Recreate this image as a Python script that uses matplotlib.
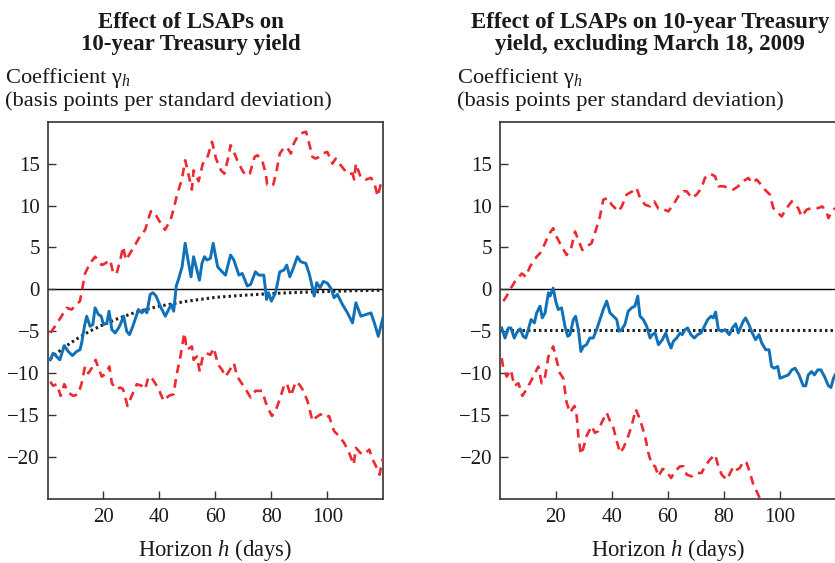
import matplotlib
matplotlib.use("Agg")
import matplotlib.pyplot as plt

FIG_W_PX = 835
FIG_H_PX = 563
DPI = 100

RED = "#ec2a2f"
BLUE = "#1070b8"
SPINE = "#333333"
TEXT = "#1a1a1a"

plt.rcParams["font.family"] = ["Liberation Serif", "DejaVu Serif"]
plt.rcParams["mathtext.fontset"] = "custom"
plt.rcParams["mathtext.rm"] = "Liberation Serif"
plt.rcParams["mathtext.it"] = "Liberation Serif:italic"

X_TICKS = [20, 40, 60, 80, 100]
Y_TICKS = [15, 10, 5, 0, -5, -10, -15, -20]

TITLE_LEFT = "Effect of LSAPs on\n10-year Treasury yield"
TITLE_RIGHT = "Effect of LSAPs on 10-year Treasury\nyield, excluding March 18, 2009"
Y_LABEL = "Coefficient γ$_h$\n(basis points per standard deviation)"
X_LABEL = "Horizon $h$ (days)"

# ---- left panel: all days ----
left_blue_h = [1, 2, 4.4, 6, 7.4, 8.9, 10.4, 11.6, 12.2, 13.2, 14, 15.2, 16.2, 17, 18.2, 19.2, 20, 21.2, 22, 23,
               24.2, 25.4, 26, 27.2, 28.3, 29.3, 30.5, 31.7, 32.5, 33.7, 34.9, 35.5, 36.7, 37.7, 38.8, 40.3, 41.2,
               42.1, 43.3, 44.2, 45.1, 46, 46.9, 48.1, 49.2, 50.2, 51.3, 52.2, 53.4, 54.3, 55.2, 56.1, 57, 58.2,
               59.2, 60.8, 62.4, 63.6, 65.4, 66.6, 68.4, 69.6, 71.4, 72.6, 74.3, 75.5, 77.3, 78.3, 79, 80, 81.5,
               83, 84.5, 85.5, 86.6, 87.8, 89.3, 90.5, 92.3, 93.5, 94.7, 95.3, 96.2, 97.4, 98.6, 100, 101.5,
               102.4, 103.6, 105.4, 107.2, 109, 110.2, 112, 113.8, 115.6, 117, 118.2, 119.1, 120]
left_blue = [-8.4, -7.6, -8.4, -6.7, -7.4, -7.9, -7.4, -7.2, -6.4, -4.4, -3.2, -4.4, -4.2, -2.2, -3.0, -3.2, -4.2,
             -4.0, -2.6, -4.8, -5.2, -4.6, -4.2, -3.2, -5.0, -5.4, -4.4, -3.2, -2.4, -2.8, -2.4, -2.8, -0.6, -0.4,
             -0.8, -2.0, -2.6, -3.2, -2.4, -1.8, -2.6, 0.4, 1.3, 2.7, 5.5, 3.5, 1.5, 3.9, 2.3, 1.1, 3.1, 3.9, 3.5,
             3.7, 5.5, 2.7, 2.1, 1.7, 4.1, 3.5, 1.7, 1.9, 0.4, 0.6, 2.1, 1.7, 1.7, -1.2, -0.4, -1.4, -0.4, 2.1,
             2.3, 2.9, 1.5, 2.5, 3.9, 3.3, 3.1, 1.9, 0.2, -0.8, 0.8, 0.2, 0.95, 0.75, 0.0, -1.0, -0.6, -1.8,
             -2.8, -4.0, -1.6, -3.2, -3.0, -2.8, -4.2, -5.6, -4.4, -3.2]

left_upper_h = [1, 2.7, 5, 6.8, 8.6, 10.4, 11.6, 12.6, 13.4, 15.2, 17, 19.4, 20.6, 22.4, 23.5, 24.7, 26, 27, 28,
                29.5, 31.3, 33, 34.9, 36.9, 38, 39.7, 42, 44, 45, 46.3, 48, 49.2, 50.4, 51.6, 52.2, 54, 55.5, 57,
                58.8, 60.2, 62, 63.2, 64.8, 65.4, 66.6, 67.8, 69.6, 70.8, 72.3, 74, 75, 76.7, 78, 78.5, 79.7, 80.7,
                81.9, 83, 84.3, 85.5, 87, 88, 89.3, 90.5, 92.4, 93.5, 94.7, 95.8, 97, 98.3, 100, 101.8, 103, 104.8,
                107.2, 109, 109.6, 110.2, 112, 113.8, 115.6, 116.8, 118, 119.2, 120]
left_upper = [-5.2, -4.4, -3.2, -2.2, -2.4, -1.8, -1.4, 0.4, 1.9, 3.1, 3.9, 2.9, 3.1, 3.5, 1.9, 1.9, 3.5, 5.1, 3.5,
              4.3, 5.3, 6.3, 7.1, 9.3, 9.3, 8.3, 7.1, 8.3, 9.5, 11.3, 13.1, 15.4, 13.7, 11.9, 14.2, 12.9, 15.0, 15.6,
              17.6, 15.6, 14.2, 13.8, 16.0, 17.2, 16.4, 15.4, 14.2, 13.6, 13.8, 15.8, 16.0, 15.4, 13.8, 12.5, 12.7,
              12.5, 14.2, 16.2, 16.8, 17.0, 16.2, 17.4, 18.2, 18.6, 18.8, 17.4, 15.8, 15.6, 15.8, 16.2, 16.4, 15.0,
              15.6, 14.8, 13.8, 13.8, 13.1, 15.0, 13.3, 13.1, 13.3, 12.7, 11.1, 12.7, 13.1]

left_lower_h = [1, 2, 3.3, 4.7, 6, 7.4, 9.2, 11, 12.2, 13.4, 14.6, 15.8, 17.2, 18.2, 19.4, 20.9, 22.1, 23, 24.5, 26,
                27, 28.6, 30.1, 31.9, 33.7, 34.9, 36.1, 37.3, 38.5, 39.7, 41.5, 43.3, 45.1, 46, 47.5, 48.9, 49.8,
                51.6, 52.2, 53.4, 54.4, 55.5, 56.6, 58.2, 59.4, 61, 62.4, 63.6, 64.8, 66.6, 67.8, 69.6, 70.8, 72.6,
                74.3, 76.7, 78, 79, 80.2, 81.5, 83, 84.5, 85.5, 87, 88.7, 89.9, 91.1, 92.9, 94.7, 95.8, 97.6, 99.4,
                100.6, 102.4, 104.2, 106, 107.8, 109.4, 110.2, 111.8, 113.2, 115, 116.2, 117.4, 118.7, 119.4, 120]
left_lower = [-11.0, -11.5, -11.3, -12.7, -11.3, -12.3, -12.7, -12.5, -11.2, -9.2, -10.0, -9.4, -8.4, -9.4, -10.4,
              -10.0, -9.2, -11.2, -11.9, -11.7, -11.9, -13.9, -12.7, -11.3, -11.5, -11.9, -10.4, -10.6, -11.2,
              -11.9, -13.3, -12.7, -12.5, -10.4, -8.0, -5.2, -7.2, -6.8, -8.4, -8.0, -9.8, -8.0, -7.6, -7.8, -7.0,
              -9.0, -9.6, -10.4, -9.8, -8.8, -10.4, -11.3, -11.9, -12.9, -12.1, -12.1, -13.5, -14.3, -15.1, -14.5,
              -13.1, -11.5, -11.2, -12.7, -11.0, -11.3, -11.9, -13.3, -15.7, -15.3, -14.9, -15.3, -15.1, -16.9,
              -17.5, -18.3, -19.5, -20.9, -18.9, -19.5, -19.7, -19.1, -20.3, -21.1, -22.1, -20.7, -20.1]

left_fit_h = [1, 3, 6, 10, 15, 20, 25, 30, 35, 40, 50, 60, 70, 80, 90, 100, 110, 120]
left_fit = [-8.3, -7.7, -6.9, -6.0, -5.0, -4.2, -3.5, -2.9, -2.4, -2.0, -1.4, -0.95, -0.7, -0.5, -0.35, -0.25,
            -0.15, -0.1]

# ---- right panel: excluding March 18, 2009 ----
right_blue_h = [0.7, 1.9, 3.1, 4, 5.2, 6, 7.3, 8.4, 9.3, 10.2, 11.2, 12.4, 13.2, 14.4, 15.2, 16.2, 17.4, 18, 19.1,
                20, 20.9, 22.1, 23.3, 24.3, 25.1, 26.3, 27.1, 28.1, 29, 29.9, 31, 32.2, 33.4, 34.6, 35.8, 37, 38.2,
                39.4, 40.6, 41.8, 42.6, 43.5, 44.7, 45.9, 47.1, 48.3, 49.3, 50.1, 51.3, 52.5, 53.7, 54.5, 55.5,
                56.7, 58.1, 59.3, 60.2, 61.2, 62, 63.2, 64.4, 65.2, 66.2, 67.1, 68.3, 69.5, 70.7, 71.9, 73.1, 74.3,
                75.5, 76.3, 77.1, 78.1, 79.3, 80.5, 82, 83.1, 84.3, 85.2, 86.2, 87, 87.8, 89, 90.2, 91.4, 92.6,
                93.6, 95, 96.2, 97.1, 98, 99.3, 100.1, 101.6, 103.1, 104.3, 105.5, 106.9, 108.4, 109.3, 110.2,
                111.4, 112.4, 113.6, 114.7, 116, 117.4, 118.3, 119.2, 119.8]
right_blue = [-4.6, -5.8, -4.6, -4.6, -5.8, -5.2, -4.7, -5.6, -5.8, -4.8, -3.6, -4.0, -2.8, -2.0, -3.4, -2.8, -0.4,
              -0.8, 0.15, -1.4, -2.4, -2.2, -4.4, -5.6, -5.4, -3.6, -3.2, -4.8, -7.4, -6.8, -6.6, -5.8, -5.8, -4.8,
              -3.6, -2.4, -1.4, -2.8, -3.2, -3.6, -5.0, -4.8, -4.2, -2.6, -2.2, -2.0, -0.8, -3.2, -3.6, -4.4, -5.8,
              -5.4, -5.2, -6.6, -6.0, -5.2, -6.2, -7.0, -6.2, -5.8, -5.2, -5.4, -4.8, -4.6, -5.4, -5.8, -5.4, -5.2,
              -4.4, -3.6, -3.2, -3.4, -2.7, -4.8, -5.0, -4.8, -5.4, -4.6, -4.1, -5.2, -4.4, -3.8, -3.4, -4.2, -5.2,
              -6.0, -5.4, -6.4, -7.2, -7.2, -9.2, -9.4, -9.2, -10.6, -10.4, -10.2, -9.6, -9.4, -10.2, -11.5, -11.5,
              -10.2, -9.8, -10.2, -9.6, -9.6, -10.4, -11.5, -11.7, -10.6, -10.2]

right_upper_h = [1.3, 2.5, 4, 5.5, 7.9, 9.3, 10.8, 13.2, 14.4, 16.2, 17.4, 19.1, 20.3, 21.5, 23.9, 25.5, 26.9, 28.3,
                 29.5, 31, 32.8, 34, 35.8, 37, 38.6, 40, 42.4, 43.6, 45.3, 47.4, 48.9, 50.1, 51.9, 53.7, 55.2, 56.7,
                 58.2, 60.2, 62, 63.8, 65.6, 66.8, 68.6, 70.3, 72.1, 73.3, 75.1, 76.9, 78.1, 79.9, 81.7, 83.4, 85.2,
                 87, 88.8, 90, 91.8, 93.3, 94.7, 96.5, 97.7, 98.9, 100.7, 102.5, 104.3, 105.5, 106.6, 107.8, 109.6,
                 111.4, 113.8, 115.2, 116.8, 117.4, 118.6, 119.8]
right_upper = [-1.4, -0.8, 0.15, 0.95, 1.9, 1.5, 2.7, 3.9, 4.3, 5.5, 6.5, 7.3, 6.3, 5.5, 4.1, 4.9, 6.9, 5.7, 4.7,
               5.1, 5.5, 6.7, 8.7, 10.7, 10.9, 10.1, 9.3, 9.9, 11.3, 11.7, 12.1, 10.9, 10.1, 9.9, 10.5, 9.6, 9.6,
               9.3, 10.1, 11.1, 11.7, 11.7, 10.9, 11.3, 12.1, 13.3, 13.8, 13.5, 12.3, 12.3, 12.1, 11.9, 12.3, 12.9,
               13.3, 12.7, 13.1, 12.5, 11.9, 11.3, 9.7, 9.3, 8.7, 9.7, 10.5, 10.1, 9.7, 8.7, 9.5, 9.7, 9.7, 9.9,
               9.1, 8.5, 9.3, 9.7]

right_lower_h = [0.7, 1.3, 2.5, 4, 5.2, 6.7, 8.1, 9.6, 11.4, 12.6, 13.8, 15, 16.2, 17.4, 19.1, 20.3, 21.5, 22.7,
                 23.9, 25.1, 26.7, 27.5, 28.1, 29, 29.9, 31, 32.8, 34, 35.2, 36.4, 38.2, 39.4, 40.6, 41.8, 43, 44.2,
                 45.9, 47.1, 48.6, 50.1, 51.9, 53.1, 54.3, 55.5, 56.7, 58.2, 59.6, 61.2, 62.6, 64.4, 65.6, 66.8,
                 68.6, 70.3, 72.1, 73.3, 75.1, 76.9, 78.1, 79.3, 81.1, 82.3, 83.5, 84.7, 85.8, 87, 88.2, 89.4, 90.6,
                 91.8, 93, 94.5]
right_lower = [-8.2, -9.4, -10.4, -9.6, -11.5, -11.2, -12.7, -11.9, -10.8, -10.0, -9.2, -11.2, -10.4, -8.0, -6.8,
               -8.4, -10.0, -10.6, -13.5, -14.7, -13.9, -15.1, -17.5, -19.7, -18.9, -17.5, -16.3, -17.1, -16.9,
               -15.9, -14.7, -15.7, -16.5, -18.1, -19.5, -18.9, -17.5, -16.3, -14.3, -15.5, -17.5, -19.5, -20.9,
               -21.1, -22.3, -21.4, -21.7, -22.5, -21.7, -21.1, -21.1, -22.1, -22.3, -21.9, -21.9, -21.1, -20.3,
               -19.7, -21.1, -22.1, -22.7, -21.9, -21.1, -21.5, -21.3, -20.5, -20.7, -21.9, -23.3, -24.1, -25.0,
               -26.0]

right_fit_h = [0, 120]
right_fit = [-4.9, -4.9]


def px_box(x0, x1, y_top, y_bottom):
    # pixel box -> figure fraction rect
    return [x0 / FIG_W_PX, 1 - y_bottom / FIG_H_PX, (x1 - x0) / FIG_W_PX, (y_bottom - y_top) / FIG_H_PX]


def draw_panel(ax, blue, upper, lower, fit):
    ax.axhline(0, color="black", lw=1.0, zorder=1)
    ax.plot(fit[0], fit[1], color="#222222", lw=2.2, linestyle=(0, (0.8, 1.0)), zorder=2)
    ax.plot(upper[0], upper[1], color=RED, lw=1.9, linestyle=(0, (3.3, 2.3)), zorder=3)
    ax.plot(lower[0], lower[1], color=RED, lw=1.9, linestyle=(0, (3.3, 2.3)), zorder=3)
    ax.plot(blue[0], blue[1], color=BLUE, lw=2.1, zorder=4)

    ax.set_xlim(0, 120)
    ax.set_ylim(-25, 20)
    ax.set_xticks(X_TICKS)
    ax.set_yticks(Y_TICKS)
    ax.tick_params(axis="both", direction="in", length=6, width=1.0, color=SPINE,
                   labelsize=15, labelcolor=TEXT)
    ax.tick_params(axis="x", pad=6.5)
    ax.tick_params(axis="y", pad=5.5)
    for sp in ax.spines.values():
        sp.set_color(SPINE)
        sp.set_linewidth(1.2)
    ax.set_xlabel(X_LABEL, fontsize=16.3, color=TEXT, labelpad=7)


fig = plt.figure(figsize=(FIG_W_PX / DPI, FIG_H_PX / DPI), dpi=DPI)

ax_l = fig.add_axes(px_box(47.5, 383.3, 121.7, 499))
draw_panel(ax_l, (left_blue_h, left_blue), (left_upper_h, left_upper), (left_lower_h, left_lower),
           (left_fit_h, left_fit))

ax_r = fig.add_axes(px_box(499.7, 835.7, 121.7, 499))
draw_panel(ax_r, (right_blue_h, right_blue), (right_upper_h, right_upper), (right_lower_h, right_lower),
           (right_fit_h, right_fit))

# multi-line texts: 'baseline' lines up the last line
fig.text(191 / FIG_W_PX, 1 - 50 / FIG_H_PX, TITLE_LEFT, ha="center", va="baseline",
         fontsize=16.5, fontweight="bold", linespacing=1.08, color=TEXT)
fig.text(650 / FIG_W_PX, 1 - 50 / FIG_H_PX, TITLE_RIGHT, ha="center", va="baseline",
         fontsize=16.5, fontweight="bold", linespacing=1.08, color=TEXT)
fig.text(5 / FIG_W_PX, 1 - 106 / FIG_H_PX, Y_LABEL, ha="left", va="baseline",
         fontsize=16.2, linespacing=1.08, color=TEXT)
fig.text(457 / FIG_W_PX, 1 - 106 / FIG_H_PX, Y_LABEL, ha="left", va="baseline",
         fontsize=16.2, linespacing=1.08, color=TEXT)

fig.savefig("out.png", dpi=DPI)
